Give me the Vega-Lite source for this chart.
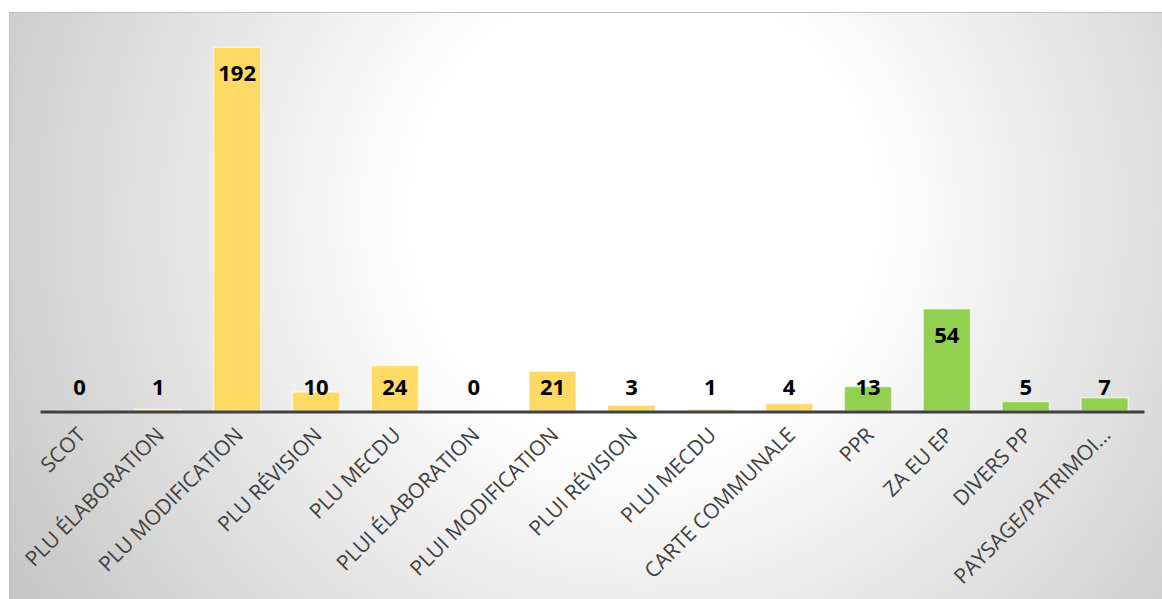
{
  "$schema": "https://vega.github.io/schema/vega-lite/v6.json",
  "width": 1153,
  "height": 587,
  "autosize": {"type": "none"},
  "padding": {"left": 9, "top": 12, "right": 0, "bottom": 0},
  "background": "#ffffff",
  "view": {
    "stroke": "#bfbfbf",
    "strokeWidth": 1,
    "fill": {
      "gradient": "radial",
      "x1": 0.55, "y1": 0.42, "r1": 0,
      "x2": 0.55, "y2": 0.42, "r2": 0.72,
      "stops": [
        {"offset": 0, "color": "#ffffff"},
        {"offset": 0.28, "color": "#ffffff"},
        {"offset": 1, "color": "#bbbbbb"}
      ]
    }
  },
  "data": {
    "values": [
      {"categorie": "SCOT", "nombre": 0, "groupe": "documents"},
      {"categorie": "PLU ÉLABORATION", "nombre": 1, "groupe": "documents"},
      {"categorie": "PLU MODIFICATION", "nombre": 192, "groupe": "documents"},
      {"categorie": "PLU RÉVISION", "nombre": 10, "groupe": "documents"},
      {"categorie": "PLU MECDU", "nombre": 24, "groupe": "documents"},
      {"categorie": "PLUI ÉLABORATION", "nombre": 0, "groupe": "documents"},
      {"categorie": "PLUI MODIFICATION", "nombre": 21, "groupe": "documents"},
      {"categorie": "PLUI RÉVISION", "nombre": 3, "groupe": "documents"},
      {"categorie": "PLUI MECDU", "nombre": 1, "groupe": "documents"},
      {"categorie": "CARTE COMMUNALE", "nombre": 4, "groupe": "documents"},
      {"categorie": "PPR", "nombre": 13, "groupe": "autres"},
      {"categorie": "ZA EU EP", "nombre": 54, "groupe": "autres"},
      {"categorie": "DIVERS PP", "nombre": 5, "groupe": "autres"},
      {"categorie": "PAYSAGE/PATRIMOI…", "nombre": 7, "groupe": "autres"}
    ]
  },
  "encoding": {
    "x": {
      "field": "categorie",
      "type": "nominal",
      "sort": null,
      "scale": {"range": [31, 1135], "paddingInner": 0.4, "paddingOuter": 0.2},
      "axis": {
        "title": null,
        "orient": "bottom",
        "offset": -187.5,
        "labelAngle": -45,
        "labelAlign": "right",
        "labelBaseline": "middle",
        "labelFont": "Open Sans",
        "labelFontSize": 21,
        "labelColor": "#404040",
        "labelPadding": 20,
        "labelOffset": 3,
        "labelLimit": 400,
        "ticks": false,
        "domainColor": "#404040",
        "domainWidth": 3,
        "grid": false,
        "zindex": 1
      }
    }
  },
  "layer": [
    {
      "mark": {"type": "bar", "stroke": "#ffffff", "strokeWidth": 1.5, "strokeOpacity": 0.6},
      "encoding": {
        "y": {
          "field": "nombre",
          "type": "quantitative",
          "scale": {"domain": [-99.2, 210.6], "nice": false, "zero": false},
          "axis": null
        },
        "color": {
          "field": "groupe",
          "type": "nominal",
          "scale": {"domain": ["documents", "autres"], "range": ["#FFD966", "#92D050"]},
          "legend": null
        }
      }
    },
    {
      "transform": [{"filter": "datum.nombre >= 27"}],
      "mark": {"type": "text", "font": "Open Sans", "fontWeight": "bold", "fontSize": 22, "color": "#000000", "baseline": "middle", "dy": 27},
      "encoding": {
        "y": {"field": "nombre", "type": "quantitative", "scale": {"domain": [-99.2, 210.6], "nice": false, "zero": false}, "axis": null},
        "text": {"field": "nombre", "type": "quantitative"}
      }
    },
    {
      "transform": [{"filter": "datum.nombre < 27"}],
      "mark": {"type": "text", "font": "Open Sans", "fontWeight": "bold", "fontSize": 22, "color": "#000000", "baseline": "middle", "dy": -23},
      "encoding": {
        "y": {"datum": 0, "type": "quantitative", "scale": {"domain": [-99.2, 210.6], "nice": false, "zero": false}, "axis": null},
        "text": {"field": "nombre", "type": "quantitative"}
      }
    }
  ]
}
